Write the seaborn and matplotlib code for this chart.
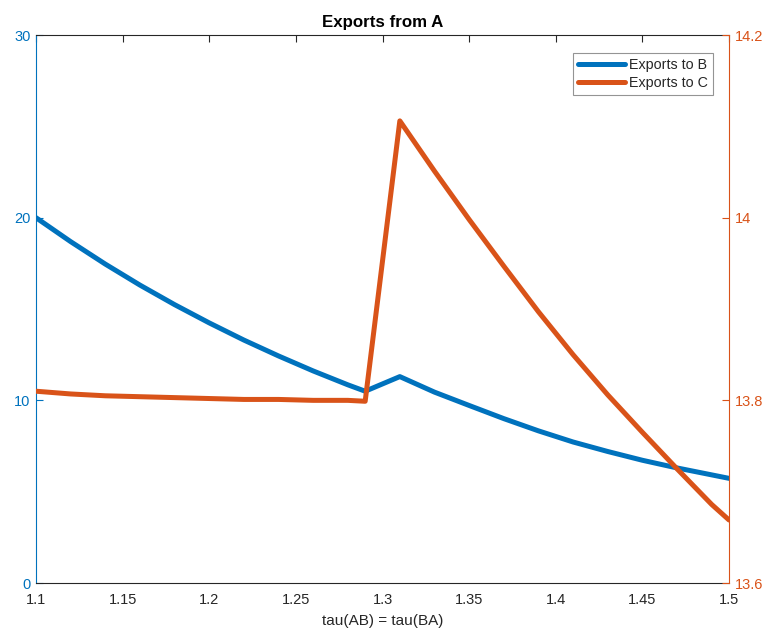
import matplotlib
matplotlib.use("Agg")
import matplotlib.pyplot as plt
import seaborn as sns
import pandas as pd

# Trade cost grid and exports of country A
tau = [1.10, 1.12, 1.14, 1.16, 1.18, 1.20, 1.22, 1.24, 1.26, 1.28, 1.29,
       1.31, 1.33, 1.35, 1.37, 1.39, 1.41, 1.43, 1.45, 1.47, 1.49, 1.50]
exports_b = [20.0, 18.69, 17.46, 16.31, 15.24, 14.24, 13.30, 12.43, 11.61, 10.85, 10.50,
             11.30, 10.45, 9.72, 9.00, 8.33, 7.72, 7.20, 6.72, 6.30, 5.92, 5.73]
exports_c = [13.810, 13.807, 13.805, 13.804, 13.803, 13.802, 13.801, 13.801, 13.800, 13.800, 13.799,
             14.106, 14.051, 13.998, 13.947, 13.897, 13.850, 13.806, 13.765, 13.725, 13.686, 13.669]

x_ticks = [1.1, 1.15, 1.2, 1.25, 1.3, 1.35, 1.4, 1.45, 1.5]
x_tick_labels = ["1.1", "1.15", "1.2", "1.25", "1.3", "1.35", "1.4", "1.45", "1.5"]
left_ticks = [0, 10, 20, 30]
left_tick_labels = ["0", "10", "20", "30"]
right_ticks = [13.6, 13.8, 14.0, 14.2]
right_tick_labels = ["13.6", "13.8", "14", "14.2"]

BLUE = "#0072BD"
ORANGE = "#D95319"
DARK = "#262626"

sns.set_style("white")
plt.rcParams["font.family"] = ["Liberation Sans", "DejaVu Sans"]

df = pd.DataFrame({"tau": tau, "to_b": exports_b, "to_c": exports_c})

fig = plt.figure(figsize=(7.67, 6.32), dpi=100)
ax = fig.add_axes([0.0469, 0.0775, 0.9036, 0.8671])
ax2 = ax.twinx()

sns.lineplot(data=df, x="tau", y="to_b", ax=ax, color=BLUE, linewidth=3.6,
             label="Exports to B", legend=False)
sns.lineplot(data=df, x="tau", y="to_c", ax=ax2, color=ORANGE, linewidth=3.6,
             label="Exports to C", legend=False)

ax.set_xlim(1.1, 1.5)
ax.set_ylim(0, 30)
ax2.set_ylim(13.6, 14.2)

ax.set_xticks(x_ticks)
ax.set_xticklabels(x_tick_labels)
ax.set_yticks(left_ticks)
ax.set_yticklabels(left_tick_labels)
ax2.set_yticks(right_ticks)
ax2.set_yticklabels(right_tick_labels)

ax.tick_params(axis="x", direction="in", top=True, length=5, width=0.8,
               color=DARK, labelcolor=DARK, labelsize=10.5, pad=7)
ax.tick_params(axis="y", direction="in", length=5, width=0.8,
               colors=BLUE, labelsize=10.5, pad=4)
ax2.tick_params(axis="y", direction="in", length=5, width=0.8,
                colors=ORANGE, labelsize=10.5, pad=4)

for name in ["top", "bottom"]:
    ax.spines[name].set_color(DARK)
    ax.spines[name].set_linewidth(0.8)
    ax2.spines[name].set_visible(False)
ax.spines["left"].set_color(BLUE)
ax.spines["left"].set_linewidth(0.8)
ax.spines["right"].set_visible(False)
ax2.spines["left"].set_visible(False)
ax2.spines["right"].set_color(ORANGE)
ax2.spines["right"].set_linewidth(0.8)

ax.set_xlabel("tau(AB) = tau(BA)", fontsize=11, color=DARK, labelpad=5)
ax.set_ylabel("")
ax2.set_ylabel("")
ax.set_title("Exports from A", fontsize=12.2, fontweight="bold", color="black", pad=6)

handles = ax.get_lines()[:1] + ax2.get_lines()[:1]
leg = ax2.legend(handles, ["Exports to B", "Exports to C"], loc="upper right",
                 bbox_to_anchor=(0.9765, 0.9677), fontsize=10.3, frameon=True,
                 fancybox=False, handlelength=3.3, handletextpad=0.25,
                 borderpad=0.35, labelspacing=0.3, borderaxespad=0.0)
leg.get_frame().set_edgecolor("#7a7a7a")
leg.get_frame().set_linewidth(0.8)

fig.savefig("out.png", dpi=100)
